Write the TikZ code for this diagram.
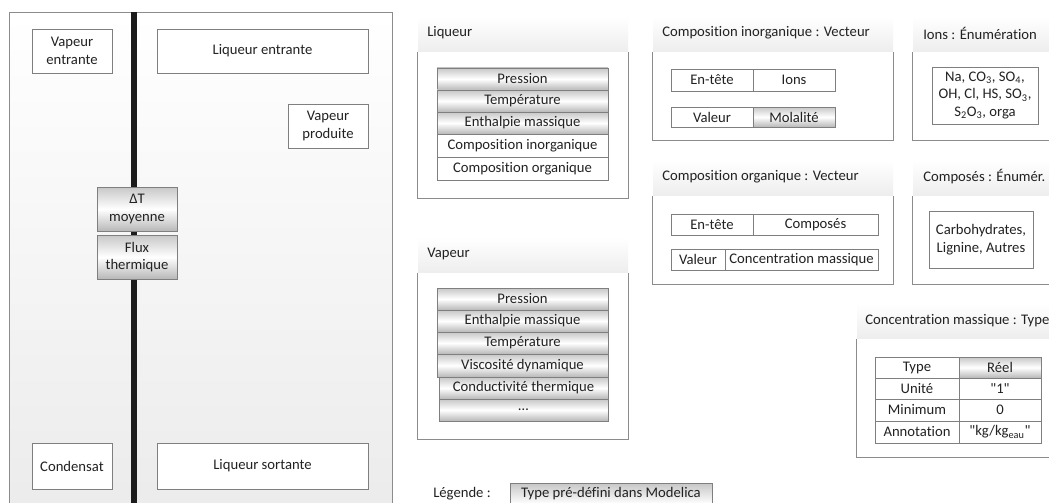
\documentclass[tikz,border=0pt]{standalone}
\usepackage{fontspec}
\setmainfont{Carlito}[Ligatures={TeXOff,NoCommon}]
\usetikzlibrary{fit}
\definecolor{bord}{HTML}{7F7F7F}
\definecolor{pbord}{HTML}{8C8C8C}
\definecolor{txt}{HTML}{222222}
\definecolor{hdrbot}{HTML}{EDEDED}
\definecolor{barc}{HTML}{1C1C1C}
\tikzset{
  every node/.style={text=txt, font=\fontsize{11}{13.3}\selectfont},
  cellbox/.style={draw=bord, line width=0.6pt, fill=white, inner sep=0pt},
  predef/.style={cellbox, top color=black!22, bottom color=black!28, middle color=white},
  hdrband/.style={draw=none, inner sep=0pt, top color=white, bottom color=hdrbot},
  panelbody/.style={draw=none, fill=white, inner sep=0pt},
  pborder/.style={draw=pbord, line width=0.6pt},
  hdrtext/.style={anchor=west, inner sep=0pt},
  celltext/.style={align=center, inner sep=0pt},
}
\newcommand\cellnode[7]{%
  \node[#1, fit={(#3,#4) (#5,#6)}] (#2) {};
  \node[celltext] (#2-t) at (#2.center) {#7};}
\begin{document}
\begin{tikzpicture}[x=0.75pt,y=-0.75pt]
\clip (0,0) rectangle (1049,503);
\fill[white] (0,0) rectangle (1049,503);

% ---------- left panel ----------
\node[inner sep=0pt, draw=pbord, line width=0.6pt, top color=white, bottom color=black!8, fit={(9,12) (392,530)}] (evap) {};
\coordinate (bartop) at (134,12);
\coordinate (barbot) at (134,510);
\draw[barc, line width=4.5pt] (bartop) -- (barbot);

\cellnode{cellbox}{ve}{32}{29}{112}{73}{Vapeur\\entrante}
\cellnode{cellbox}{le}{157}{29}{368}{73}{Liqueur entrante}
\cellnode{cellbox}{vp}{288}{104}{368}{148}{Vapeur\\produite}
\cellnode{predef}{dt}{97}{187}{177}{231}{ΔT\\moyenne}
\cellnode{predef}{fx}{97}{235}{177}{279}{Flux\\thermique}
\cellnode{cellbox}{cd}{32}{443}{112}{489}{Condensat}
\cellnode{cellbox}{ls}{157}{443}{368}{489}{Liqueur sortante}

% ---------- Liqueur ----------
\node[hdrband, fit={(418,17) (628,52)}] (lqh) {};
\node[hdrtext] (lqh-t) at (427,33) {Liqueur};
\node[panelbody, fit={(418,52) (628,198)}] (lqb) {};
\draw[pborder] (lqb.north west) |- (lqb.south east) -- (lqb.north east);
\cellnode{predef}{lq1}{437}{68}{608}{90}{Pression}
\cellnode{predef}{lq2}{437}{90}{608}{112}{Température}
\cellnode{predef}{lq3}{437}{112}{608}{134}{Enthalpie massique}
\cellnode{cellbox}{lq4}{437}{134}{608}{157}{Composition inorganique}
\cellnode{cellbox}{lq5}{437}{157}{608}{180}{Composition organique}

% ---------- Vapeur ----------
\node[hdrband, fit={(418,238) (628,273)}] (vah) {};
\node[hdrtext] (vah-t) at (427,254) {Vapeur};
\node[panelbody, fit={(418,273) (628,439)}] (vab) {};
\draw[pborder] (vab.north west) |- (vab.south east) -- (vab.north east);
\cellnode{predef}{va1}{437}{288}{608}{310}{Pression}
\cellnode{predef}{va2}{437}{310}{608}{332}{Enthalpie massique}
\cellnode{predef}{va3}{437}{332}{608}{354}{Température}
\cellnode{predef}{va4}{437}{354}{608}{377}{Viscosité dynamique}
\cellnode{predef}{va5}{439}{377}{608}{399}{Conductivité thermique}
\cellnode{predef}{va6}{439}{399}{608}{421}{…}

% ---------- Composition inorganique ----------
\node[hdrband, fit={(653,17) (893,52)}] (cih) {};
\node[hdrtext] (cih-t) at (662,33) {Composition inorganique : Vecteur};
\node[panelbody, fit={(653,52) (893,140)}] (cib) {};
\draw[pborder] (cib.north west) |- (cib.south east) -- (cib.north east);
\cellnode{cellbox}{ci1}{671}{69}{753}{91}{En-tête}
\cellnode{cellbox}{ci2}{753}{69}{835}{91}{Ions}
\cellnode{cellbox}{ci3}{671}{107}{753}{127}{Valeur}
\cellnode{predef}{ci4}{753}{107}{835}{127}{Molalité}

% ---------- Ions ----------
\node[hdrband, fit={(913,17) (1070,52)}] (ioh) {};
\node[hdrtext] (ioh-t) at (923,33) {Ions : Énumération};
\node[panelbody, fit={(913,52) (1070,140)}] (iob) {};
\draw[pborder] (iob.north west) |- (iob.south east);
\cellnode{cellbox, font=\fontsize{11}{12.6}\selectfont}{io1}{932}{67}{1038}{124}{Na, CO\textsubscript{3}, SO\textsubscript{4},\\OH, Cl, HS, SO\textsubscript{3},\\S\textsubscript{2}O\textsubscript{3}, orga}

% ---------- Composition organique ----------
\node[hdrband, fit={(653,161) (893,196)}] (coh) {};
\node[hdrtext] (coh-t) at (662,177) {Composition organique : Vecteur};
\node[panelbody, fit={(653,196) (893,284)}] (cob) {};
\draw[pborder] (cob.north west) |- (cob.south east) -- (cob.north east);
\cellnode{cellbox}{co1}{671}{214}{753}{235}{En-tête}
\cellnode{cellbox}{co2}{753}{214}{878}{235}{Composés}
\cellnode{cellbox}{co3}{671}{249}{725}{270}{Valeur}
\cellnode{cellbox}{co4}{725}{249}{878}{270}{Concentration massique}

% ---------- Composés ----------
\node[hdrband, fit={(913,161) (1070,196)}] (cph) {};
\node[hdrtext] (cph-t) at (923,177) {Composés : Énumér.};
\node[panelbody, fit={(913,196) (1070,284)}] (cpb) {};
\draw[pborder] (cpb.north west) |- (cpb.south east);
\cellnode{cellbox}{cp1}{929}{211}{1033}{268}{Carbohydrates,\\Lignine, Autres}

% ---------- Concentration massique ----------
\node[hdrband, fit={(857,304) (1070,339)}] (cmh) {};
\node[hdrtext] (cmh-t) at (865,321) {Concentration massique : Type};
\node[panelbody, fit={(857,339) (1070,457)}] (cmb) {};
\draw[pborder] (cmb.north west) |- (cmb.south east);
\cellnode{cellbox}{cm1}{875}{357}{959}{378}{Type}
\cellnode{predef}{cm2}{959}{357}{1041}{378}{Réel}
\cellnode{cellbox}{cm3}{875}{378}{959}{399}{Unité}
\cellnode{cellbox}{cm4}{959}{378}{1041}{399}{"1"}
\cellnode{cellbox}{cm5}{875}{399}{959}{421}{Minimum}
\cellnode{cellbox}{cm6}{959}{399}{1041}{421}{0}
\cellnode{cellbox}{cm7}{875}{421}{959}{443}{Annotation}
\cellnode{cellbox}{cm8}{959}{421}{1041}{443}{"kg/kg\textsubscript{eau}"}

% ---------- Légende ----------
\node[hdrtext] (lgt) at (433,494) {Légende :};
\node[predef, fit={(510,483) (712,525)}] (lgb) {};
\node[celltext] (lgb-t) at (611,494) {Type pré-défini dans Modelica};
\end{tikzpicture}
\end{document}
